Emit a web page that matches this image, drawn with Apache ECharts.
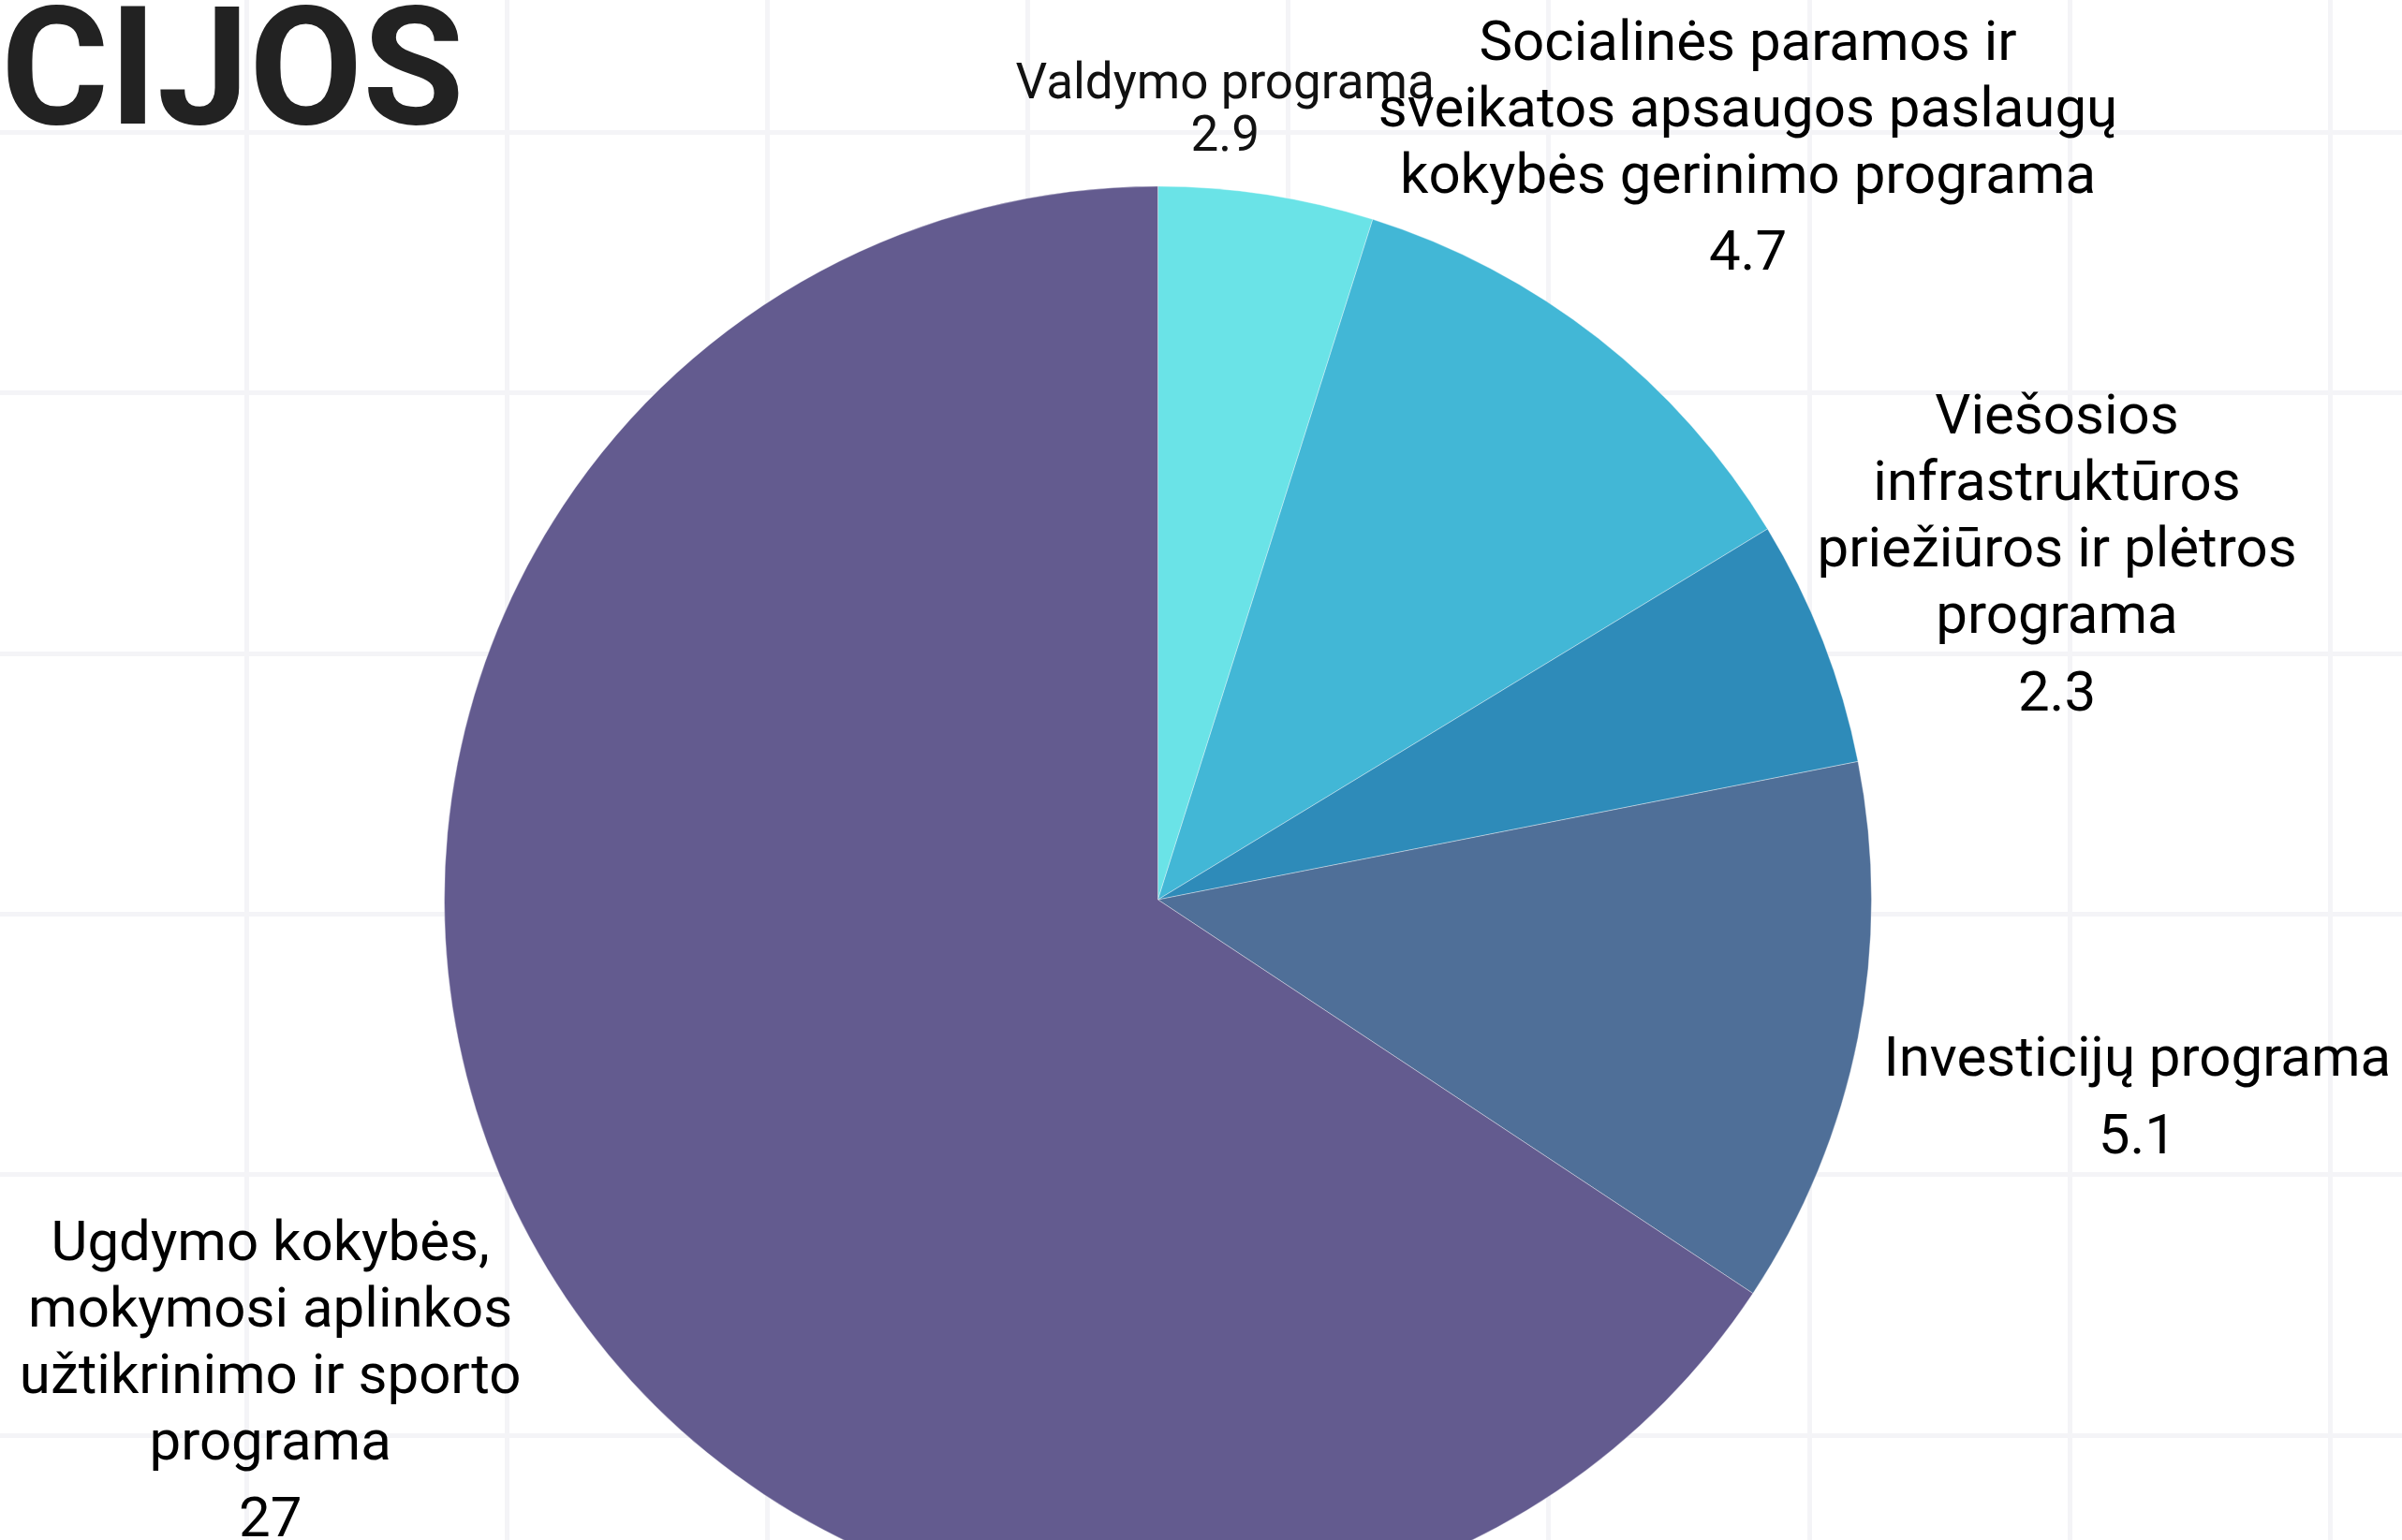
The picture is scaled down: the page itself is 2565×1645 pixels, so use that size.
<!DOCTYPE html>
<html><head><meta charset="utf-8">
<script src="https://cdn.jsdelivr.net/npm/echarts@6/dist/echarts.min.js"></script>
<style>html,body{margin:0;padding:0;background:#fff}#c{width:2565px;height:1645px}</style>
</head><body><div id="c"></div>
<script>
// ---- data ----
const titleText = 'CIJOS';
const categories = [
  'Valdymo programa',
  'Socialinės paramos ir\nsveikatos apsaugos paslaugų\nkokybės gerinimo programa',
  'Viešosios\ninfrastruktūros\npriežiūros ir plėtros\nprograma',
  'Investicijų programa',
  'Ugdymo kokybės,\nmokymosi aplinkos\nužtikrinimo ir sporto\nprograma'
];
const sliceValues = [2.0, 4.7, 2.3, 5.1, 27];
// value text printed in each label
const valueLabels = ['2.9', '4.7', '2.3', '5.1', '27'];

// ---- style / layout ----
const colors = ['#6AE3E7', '#42B7D6', '#2E8BB9', '#4F6F98', '#635B8F'];
const PIE_CENTER = [1236.5, 961];
const PIE_RADIUS = 762;
const labelRadius = [847, 1021, 1030, 1066, 1076];
const labelAngleShift = [-3.9, 0, 0, 0, 0];
const labelNudgeY = [3, 9, 14, 14, 14];

const total = sliceValues.reduce((a, b) => a + b, 0);
const midAngles = [];
let acc = 0;
sliceValues.forEach(v => { midAngles.push((acc + v / 2) / total * 360); acc += v; });

const data = categories.map((name, i) => {
  const small = i === 0;
  return {
    name: name,
    value: sliceValues[i],
    itemStyle: { color: colors[i] },
    label: {
      formatter: small ? '{ns|{b}}\n{vs|' + valueLabels[i] + '}' : '{n|{b}}\n{v|' + valueLabels[i] + '}'
    }
  };
});

const gridLine = { show: true, showMinLine: true, showMaxLine: true, lineStyle: { color: '#F4F4F7', width: 5 } };
const hiddenAxis = { axisLine: { show: false }, axisTick: { show: false }, axisLabel: { show: false }, splitLine: { show: false } };

const chart = echarts.init(document.getElementById('c'), null, { renderer: 'canvas' });
chart.setOption({
  animation: false,
  backgroundColor: '#ffffff',
  title: {
    text: titleText,
    left: -4, top: -5,
    textStyle: { fontFamily: 'Roboto', fontWeight: 'bold', fontSize: 176, color: '#222222' }
  },
  grid: [
    { left: 263, right: 77, top: 0, bottom: 0 },
    { left: 0, right: 0, top: 141, bottom: 112 }
  ],
  xAxis: [
    Object.assign({ type: 'value', gridIndex: 0, min: 0, max: 8, interval: 1 }, hiddenAxis, { splitLine: gridLine }),
    Object.assign({ type: 'value', gridIndex: 1, min: 0, max: 1 }, hiddenAxis)
  ],
  yAxis: [
    Object.assign({ type: 'value', gridIndex: 0, min: 0, max: 1 }, hiddenAxis),
    Object.assign({ type: 'value', gridIndex: 1, min: 0, max: 5, interval: 1 }, hiddenAxis, { splitLine: gridLine })
  ],
  series: [{
    type: 'pie',
    center: PIE_CENTER,
    radius: PIE_RADIUS,
    startAngle: 90,
    clockwise: true,
    avoidLabelOverlap: false,
    itemStyle: { borderColor: 'rgba(255,255,255,0.35)', borderWidth: 1 },
    labelLine: { show: false },
    label: {
      show: true,
      position: 'outside',
      fontFamily: 'Roboto',
      color: '#000000',
      rich: {
        n: { fontFamily: 'Roboto', fontSize: 60, lineHeight: 71, align: 'center', color: '#000' },
        v: { fontFamily: 'Roboto', fontSize: 60, lineHeight: 94, align: 'center', color: '#000' },
        ns: { fontFamily: 'Roboto', fontSize: 53, lineHeight: 56, align: 'center', color: '#111' },
        vs: { fontFamily: 'Roboto', fontSize: 53, lineHeight: 56, align: 'center', color: '#111' }
      }
    },
    labelLayout: function (p) {
      const i = p.dataIndex;
      const a = (midAngles[i] + labelAngleShift[i]) * Math.PI / 180;
      return {
        x: PIE_CENTER[0] + labelRadius[i] * Math.sin(a),
        y: PIE_CENTER[1] - labelRadius[i] * Math.cos(a) + labelNudgeY[i],
        align: 'center',
        verticalAlign: 'middle'
      };
    },
    emphasis: { disabled: true },
    data: data
  }]
});
</script>
</body></html>
